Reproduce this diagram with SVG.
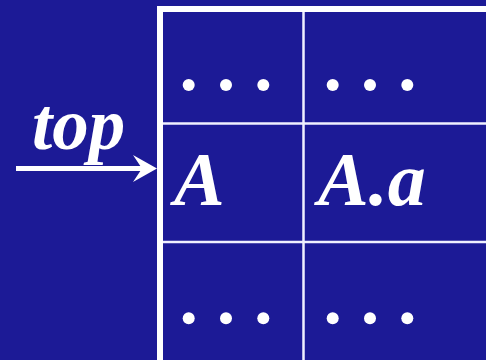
<svg xmlns="http://www.w3.org/2000/svg" width="486" height="360" viewBox="0 0 486 360">
<style>
.t{font-family:"Liberation Serif","Times New Roman",serif;font-weight:bold;font-style:italic;fill:#fff}
.d{fill:#fff}
.g{stroke:#f0f0ff;stroke-width:2.5;fill:none}
</style>
<rect width="486" height="360" fill="#1c1a96"/>
<g id="table">
<rect x="160" y="9" width="340" height="360" fill="none" stroke="#fff" stroke-width="6"/>
<line class="g" x1="303.5" y1="12" x2="303.5" y2="360"/>
<line class="g" x1="163" y1="123.5" x2="486" y2="123.5"/>
<line class="g" x1="163" y1="242" x2="486" y2="242"/>
</g>
<g id="cell-r1c1"><circle class="d" cx="188.7" cy="85" r="6"/><circle class="d" cx="226" cy="85" r="6"/><circle class="d" cx="263.3" cy="85" r="6"/></g>
<g id="cell-r1c2"><circle class="d" cx="332.7" cy="85" r="6"/><circle class="d" cx="370" cy="85" r="6"/><circle class="d" cx="407.3" cy="85" r="6"/></g>
<g id="cell-r2c1"><text class="t" x="174" y="205" font-size="76">A</text></g>
<g id="cell-r2c2"><text class="t" x="318" y="205" font-size="76">A.a</text></g>
<g id="cell-r3c1"><circle class="d" cx="188.7" cy="318.3" r="6"/><circle class="d" cx="226" cy="318.3" r="6"/><circle class="d" cx="263.3" cy="318.3" r="6"/></g>
<g id="cell-r3c2"><circle class="d" cx="332.7" cy="318.3" r="6"/><circle class="d" cx="370" cy="318.3" r="6"/><circle class="d" cx="407.3" cy="318.3" r="6"/></g>
<g id="top-label"><text class="t" x="32" y="149" font-size="73">top</text></g>
<g id="connectors">
<line x1="16" y1="168.5" x2="150" y2="168.5" stroke="#fff" stroke-width="5"/>
<path d="M133,155 L157,168.5 L133,182 L142,168.5 Z" fill="#fff"/>
</g>
</svg>
